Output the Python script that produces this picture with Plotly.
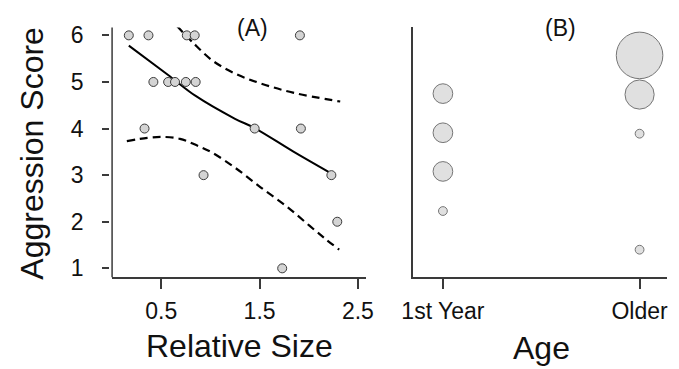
import plotly.graph_objects as go

# ---------------- data ----------------
# Panel A: individual observations
rel_size = [0.17, 0.37, 0.76, 0.84, 1.91,
            0.42, 0.57, 0.64, 0.75, 0.85,
            0.33, 1.45, 1.92,
            0.93, 2.23,
            2.29,
            1.73]
aggr_score = [6, 6, 6, 6, 6,
              5, 5, 5, 5, 5,
              4, 4, 4,
              3, 3,
              2,
              1]

# fitted curve and confidence band
fit_x = [0.17, 0.57, 0.85, 1.25, 1.45, 1.84, 2.21]
fit_y = [5.78, 5.15, 4.70, 4.21, 4.01, 3.51, 3.06]
upper_x = [0.66, 0.82, 1.02, 1.25, 1.51, 1.84, 2.32]
upper_y = [6.20, 5.85, 5.46, 5.18, 4.97, 4.77, 4.58]
lower_x = [0.15, 0.36, 0.52, 0.69, 0.85, 1.02, 1.25, 1.51, 1.78, 2.01, 2.17, 2.31]
lower_y = [3.73, 3.80, 3.82, 3.78, 3.65, 3.48, 3.16, 2.74, 2.32, 1.91, 1.63, 1.40]

# Panel B: bubbles by age class
age_cats = ["1st Year", "Older"]
first_year_y = [4.75, 3.91, 3.08, 2.23]
first_year_n = [5, 5, 5, 1]
older_y = [5.57, 4.73, 3.89, 1.40]
older_n = [28, 11, 1, 1]

y_ticks = [1, 2, 3, 4, 5, 6]
x_ticks = [0.5, 1.5, 2.5]

# ---------------- figure ----------------
W, H = 679, 369
FONT = "Liberation Sans, Arial, sans-serif"
AX = "#3a3a3a"
FILL = "#d4d4d4"
EDGE = "#3c3c3c"
TICK_SIZE = 23
TITLE_SIZE = 32

fig = go.Figure()

fig.add_trace(go.Scatter(x=upper_x, y=upper_y, mode="lines", line_shape="spline",
                         line=dict(color="black", width=2.2, dash="8px,5px"),
                         xaxis="x", yaxis="y", showlegend=False, hoverinfo="skip"))
fig.add_trace(go.Scatter(x=lower_x, y=lower_y, mode="lines", line_shape="spline",
                         line=dict(color="black", width=2.2, dash="8px,5px"),
                         xaxis="x", yaxis="y", showlegend=False, hoverinfo="skip"))
fig.add_trace(go.Scatter(x=fit_x, y=fit_y, mode="lines", line_shape="spline",
                         line=dict(color="black", width=2),
                         xaxis="x", yaxis="y", showlegend=False))
fig.add_trace(go.Scatter(x=rel_size, y=aggr_score, mode="markers",
                         marker=dict(size=9, color=FILL, line=dict(color=EDGE, width=1)),
                         xaxis="x", yaxis="y", showlegend=False))

sizeref = 1 / (2 * 4.4 ** 2)
fig.add_trace(go.Scatter(x=[age_cats[0]] * len(first_year_y), y=first_year_y, mode="markers",
                         marker=dict(size=first_year_n, sizemode="area", sizeref=sizeref,
                                     color=FILL, line=dict(color=EDGE, width=1)),
                         xaxis="x2", yaxis="y2", showlegend=False, cliponaxis=False))
fig.add_trace(go.Scatter(x=[age_cats[1]] * len(older_y), y=older_y, mode="markers",
                         marker=dict(size=older_n, sizemode="area", sizeref=sizeref,
                                     color=FILL, line=dict(color=EDGE, width=1)),
                         xaxis="x2", yaxis="y2", showlegend=False, cliponaxis=False))

def px_x(p):
    return p / W

def px_y(p):
    return 1 - p / H

yr = [0.81, 6.17]
ydom = [px_y(279), px_y(23)]

fig.update_layout(
    width=W, height=H,
    margin=dict(l=0, r=0, t=0, b=0),
    paper_bgcolor="white", plot_bgcolor="white",
    font=dict(family=FONT, color="#111111", size=TICK_SIZE),
    xaxis=dict(domain=[px_x(104), px_x(365)], range=[0.0, 2.58], tickvals=x_ticks,
               ticktext=[str(v) for v in x_ticks],
               showline=True, linecolor=AX, linewidth=1.5, ticks="outside", ticklen=10,
               tickcolor=AX, tickwidth=1.5, showgrid=False, zeroline=False,
               tickfont=dict(size=TICK_SIZE), ticklabelstandoff=2, anchor="y"),
    yaxis=dict(domain=ydom, range=yr, tickvals=y_ticks, anchor="free", position=px_x(101),
               showline=False, ticks="outside", ticklen=7, tickcolor=AX, tickwidth=1.5,
               showgrid=False, zeroline=False, tickfont=dict(size=TICK_SIZE),
               ticklabelstandoff=14),
    xaxis2=dict(domain=[px_x(414), px_x(675)], type="category", categoryorder="array",
                categoryarray=age_cats, range=[-0.15, 1.14],
                showline=True, linecolor=AX, linewidth=1.5, ticks="outside", ticklen=10,
                tickcolor=AX, tickwidth=1.5, showgrid=False, zeroline=False,
                tickfont=dict(size=TICK_SIZE), ticklabelstandoff=2, anchor="y2"),
    yaxis2=dict(domain=ydom, range=yr, showticklabels=False, ticks="",
                showline=True, linecolor=AX, linewidth=1.5, showgrid=False,
                zeroline=False, anchor="x2"),
)

# vertical axis line of panel A (drawn slightly right of its tick marks)
fig.add_shape(type="line", xref="paper", yref="paper",
              x0=px_x(104), x1=px_x(104), y0=ydom[0], y1=ydom[1],
              line=dict(color=AX, width=1.5))

# panel labels and axis titles
fig.add_annotation(text="(A)", xref="paper", yref="paper", x=px_x(248), y=px_y(24),
                   showarrow=False, font=dict(size=23), xanchor="center", yanchor="middle")
fig.add_annotation(text="(B)", xref="paper", yref="paper", x=px_x(565), y=px_y(24),
                   showarrow=False, font=dict(size=23), xanchor="center", yanchor="middle")
fig.add_annotation(text="Relative Size", xref="paper", yref="paper", x=px_x(235), y=px_y(350),
                   showarrow=False, font=dict(size=TITLE_SIZE), xanchor="center", yanchor="middle")
fig.add_annotation(text="Age", xref="paper", yref="paper", x=px_x(546), y=px_y(352),
                   showarrow=False, font=dict(size=TITLE_SIZE), xanchor="center", yanchor="middle")
fig.add_annotation(text="Aggression Score", xref="paper", yref="paper", x=px_x(22), y=px_y(152),
                   showarrow=False, font=dict(size=TITLE_SIZE), textangle=-90,
                   xanchor="center", yanchor="middle")

fig.write_html("out.html", config={"displayModeBar": False},
               post_script="document.body.style.margin='0px';")
